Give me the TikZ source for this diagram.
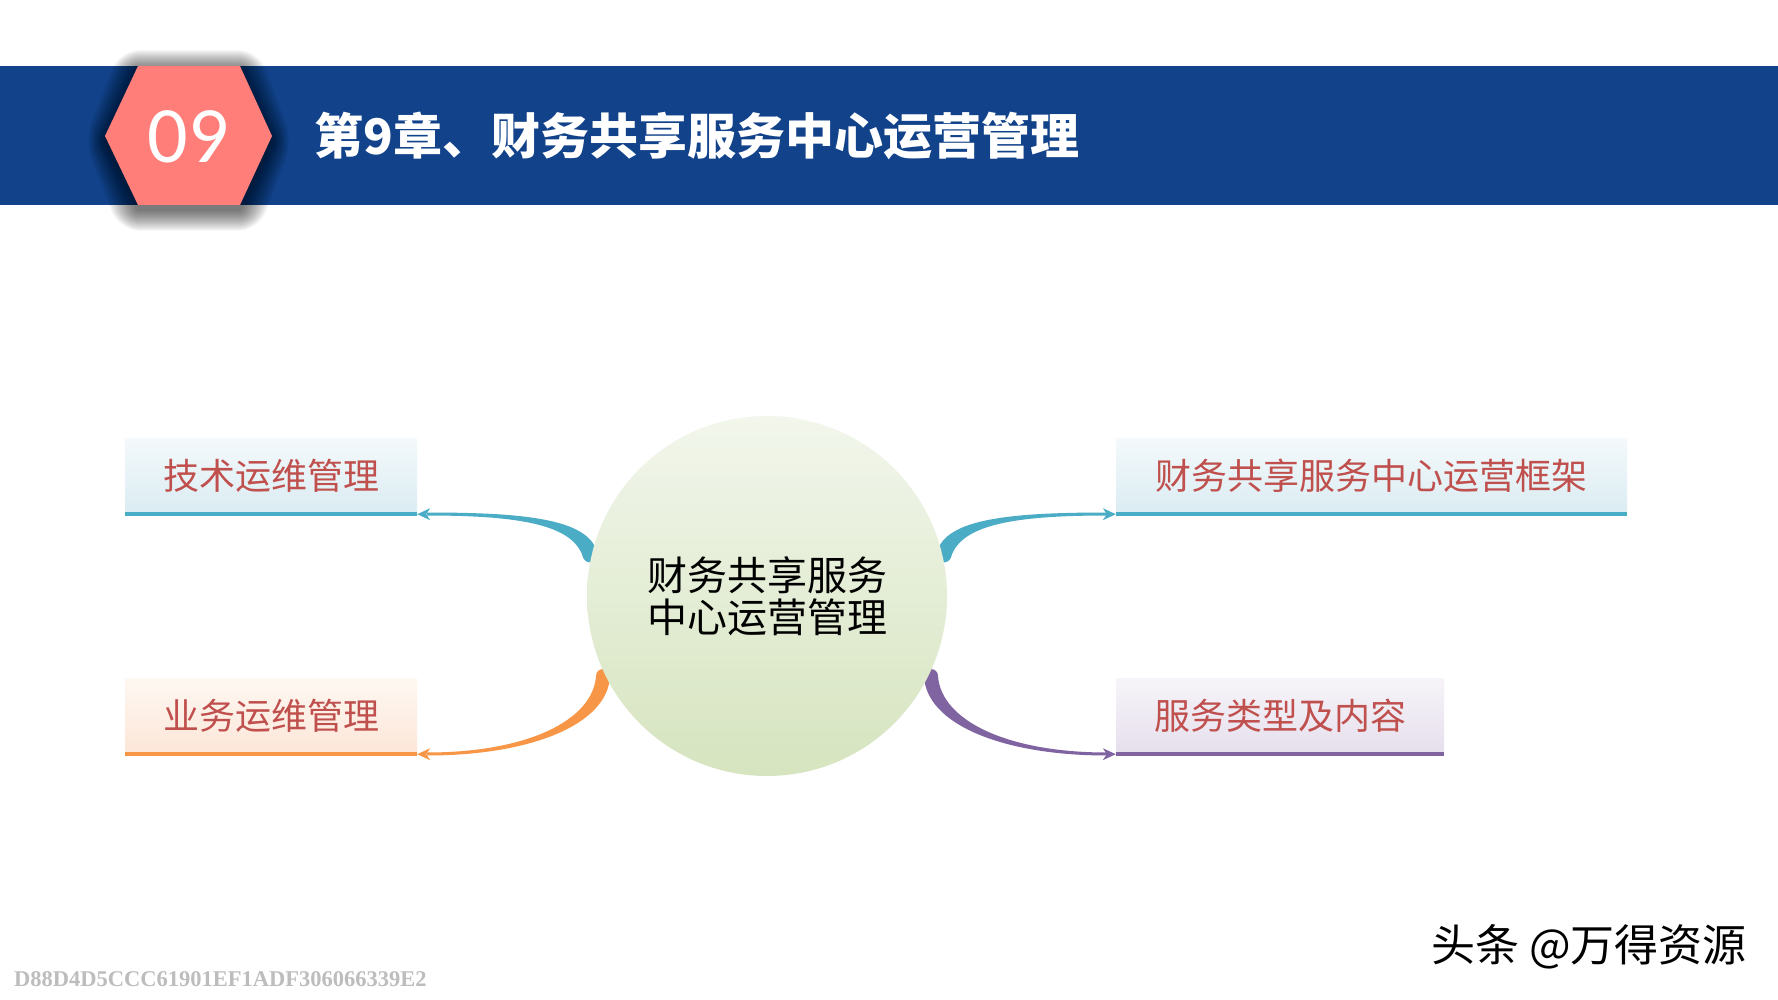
\documentclass[tikz,border=0pt]{standalone}
\usepackage{fontspec}
\setmainfont{Liberation Sans}
\newfontfamily\cjk{Noto Sans CJK SC}
\newfontfamily\numfont{Carlito}
\newfontfamily\wmfont{Liberation Serif}
\definecolor{bandc}{HTML}{11428A}
\definecolor{hexc}{HTML}{FF7E79}
\definecolor{tealc}{HTML}{4BACC6}
\definecolor{orangec}{HTML}{F79646}
\definecolor{purplec}{HTML}{8064A2}
\definecolor{redtext}{HTML}{C0504D}
\definecolor{circtop}{HTML}{F2F6EC}
\definecolor{circbot}{HTML}{D6E4BF}
\definecolor{wmgray}{HTML}{BDBDBD}
\tikzset{
  boxbase/.style={rectangle, inner sep=0, text=redtext, minimum height=76pt,
    font=\cjk\fontsize{36}{38}\selectfont},
  bluebox/.style={boxbase, top color={rgb,255:red,244;green,249;blue,251}, bottom color={rgb,255:red,218;green,236;blue,242}},
  orangebox/.style={boxbase, top color={rgb,255:red,254;green,248;blue,242}, bottom color={rgb,255:red,252;green,230;blue,216}},
  purplebox/.style={boxbase, top color={rgb,255:red,247;green,244;blue,249}, bottom color={rgb,255:red,229;green,223;blue,236}},
  baseline4/.style={line width=4pt},
}
\begin{document}
\begin{tikzpicture}[x=1pt,y=-1pt]
\useasboundingbox (0,0) rectangle (1778,1000);
\fill[white] (0,0) rectangle (1778,1000);

% header band
\fill[bandc] (0,66) rectangle (1778,205);
% hexagon soft shadow
\foreach \k in {1,...,21} {
  \fill[black, opacity=0.03, rounded corners={\k*1pt}]
    ({105-\k},141) -- ({138-0.9*\k},{71-\k}) -- ({240+0.9*\k},{71-\k})
    -- ({272+\k},141) -- ({240+0.9*\k},{210+\k}) -- ({138-0.9*\k},{210+\k}) -- cycle;
}
\fill[hexc] (105,136) -- (138,66) -- (240,66) -- (272,136) -- (240,205) -- (138,205) -- cycle;
\node[text=white, font=\numfont\fontsize{80}{80}\selectfont] (num) at (188,137) {09};
\node[anchor=west, inner sep=0, text=white, font=\cjk\bfseries\fontsize{49}{50}\selectfont] (title) at (314,136) {第9章、财务共享服务中心运营管理};

% boxes
\node[bluebox, minimum width=292pt] (b1) at (271,476) {技术运维管理};
\node[orangebox, minimum width=292pt] (b2) at (271,716) {业务运维管理};
\node[bluebox, minimum width=511pt] (b3) at (1371.5,476) {财务共享服务中心运营框架};
\node[purplebox, minimum width=328pt] (b4) at (1280,716) {服务类型及内容};
\draw[baseline4, tealc] (b1.south west) -- (b1.south east);
\draw[baseline4, orangec] (b2.south west) -- (b2.south east);
\draw[baseline4, tealc] (b3.south west) -- (b3.south east);
\draw[baseline4, purplec] (b4.south west) -- (b4.south east);

% tapered connectors
\fill[tealc] (427,512.5) .. controls (525,512.5) and (588,519) .. (597,552)
  -- (583,557) .. controls (573,526) and (525,515.5) .. (427,515.5) -- cycle;
\fill[tealc] (590,555) circle[radius=7.4];
\fill[tealc] (1107,512.5) .. controls (1009,512.5) and (946,519) .. (937,552)
  -- (951,557) .. controls (961,526) and (1009,515.5) .. (1107,515.5) -- cycle;
\fill[tealc] (944,555) circle[radius=7.4];
\fill[orangec] (427,755.5) .. controls (532,755.5) and (608,724) .. (610,676)
  -- (596,676) .. controls (593,720) and (528,752.5) .. (427,752.5) -- cycle;
\fill[orangec] (603,676) circle[radius=7];
\fill[purplec] (1107,755.5) .. controls (1002,755.5) and (926,724) .. (924,676)
  -- (938,676) .. controls (941,720) and (1006,752.5) .. (1107,752.5) -- cycle;
\fill[purplec] (931,676) circle[radius=7];

% arrowheads
\fill[tealc] (b1.south east) -- ++(13,-6) -- ++(-4,6) -- ++(4,6) -- cycle;
\fill[orangec] (b2.south east) -- ++(13,-6) -- ++(-4,6) -- ++(4,6) -- cycle;
\fill[tealc] (b3.south west) -- ++(-13,-6) -- ++(4,6) -- ++(-4,6) -- cycle;
\fill[purplec] (b4.south west) -- ++(-13,-6) -- ++(4,6) -- ++(-4,6) -- cycle;

% hub
\node[circle, minimum size=360pt, inner sep=0, top color=circtop, bottom color=circbot,
  align=center, font=\cjk\fontsize{40}{42}\selectfont] (hub) at (767,596) {财务共享服务\\中心运营管理};

% footer
\node[anchor=west, inner sep=0, text=wmgray, font=\wmfont\bfseries\fontsize{22.5}{22.5}\selectfont] (wm) at (14,979) {D88D4D5CCC61901EF1ADF306066339E2};
\node[anchor=east, inner sep=0, font=\cjk\fontsize{44}{44}\selectfont] (src) at (1747,947) {头条 @万得资源};
\end{tikzpicture}
\end{document}
